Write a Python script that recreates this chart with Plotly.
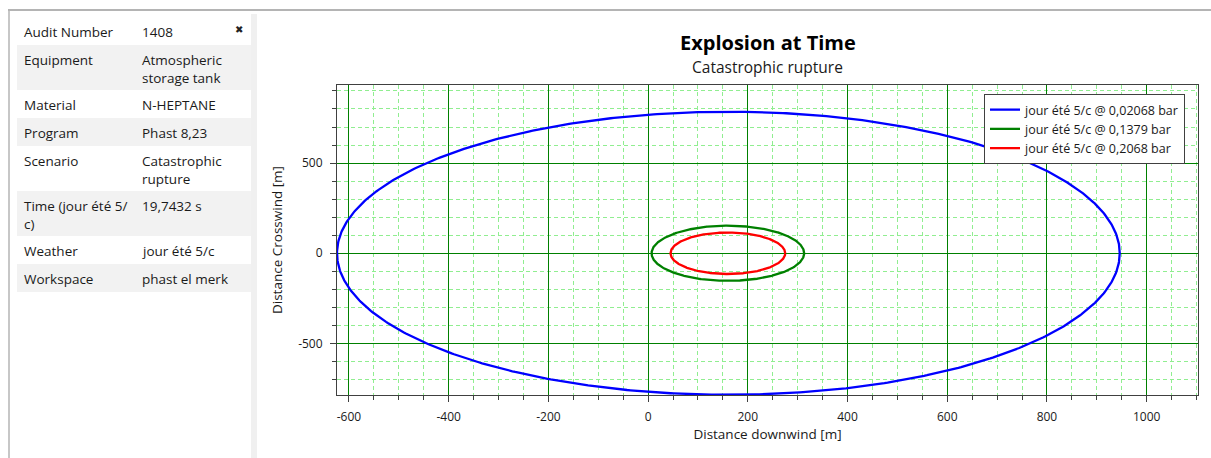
import numpy as np
import plotly.graph_objects as go

# ---------------- data ----------------
series_names = ["jour été 5/c @ 0,02068 bar", "jour été 5/c @ 0,1379 bar", "jour été 5/c @ 0,2068 bar"]
series_colors = ["#0000ff", "#008000", "#ff0000"]
center_x = [161, 160, 160]      # m downwind
center_y = [0, 0, 0]            # m crosswind
radius = [785, 153, 115]        # m

x_tickvals = [-600, -400, -200, 0, 200, 400, 600, 800, 1000]
x_ticktext = ["-600", "-400", "-200", "0", "200", "400", "600", "800", "1000"]
y_tickvals = [-500, 0, 500]
y_ticktext = ["-500", "0", "500"]

table_labels = ["Audit Number", "Equipment", "Material", "Program", "Scenario",
                "Time (jour été 5/\nc)", "Weather", "Workspace"]
table_values = ["1408", "Atmospheric\nstorage tank", "N-HEPTANE", "Phast 8,23",
                "Catastrophic\nrupture", "19,7432 s", "jour été 5/c", "phast el merk"]

title_text = "Explosion at Time"
subtitle_text = "Catastrophic rupture"
x_title = "Distance downwind [m]"
y_title = "Distance Crosswind [m]"

# ---------------- layout geometry ----------------
W, H = 1211, 458
ML, MR, MT, MB = 337, 13, 85, 63
PW, PH = W - ML - MR, H - MT - MB


def px_x(p):
    return (p - ML) / PW


def px_y(p):
    return (H - MB - p) / PH


FONT = "Open Sans"
TXT = "#1a1a1a"

fig = go.Figure()

theta = np.linspace(0, 2 * np.pi, 721)
for name, col, cx, cy, r in zip(series_names, series_colors, center_x, center_y, radius):
    fig.add_trace(go.Scatter(
        x=cx + r * np.cos(theta), y=cy + r * np.sin(theta),
        mode="lines", name=name, line=dict(color=col, width=2.3),
        hoverinfo="skip"))

shapes = []
annotations = []

# frame lines of the window
shapes.append(dict(type="line", xref="paper", yref="paper",
                   x0=px_x(8), x1=px_x(W), y0=px_y(10), y1=px_y(10),
                   line=dict(color="#b4b4b4", width=2), layer="above"))
shapes.append(dict(type="line", xref="paper", yref="paper",
                   x0=px_x(9), x1=px_x(9), y0=px_y(10), y1=px_y(H),
                   line=dict(color="#b4b4b4", width=1.5), layer="above"))
# light strip between panel and chart
shapes.append(dict(type="rect", xref="paper", yref="paper",
                   x0=px_x(251), x1=px_x(257), y0=px_y(14), y1=px_y(H),
                   fillcolor="#f0f0f0", line=dict(width=0), layer="below"))

# table rows
row_tops = [17]
for lab, val in zip(table_labels, table_values):
    nlines = max(lab.count("\n"), val.count("\n")) + 1
    h = 28 if nlines == 1 else 45
    row_tops.append(row_tops[-1] + h)

for i, (lab, val) in enumerate(zip(table_labels, table_values)):
    top, bot = row_tops[i], row_tops[i + 1]
    if i % 2 == 1:
        shapes.append(dict(type="rect", xref="paper", yref="paper",
                           x0=px_x(17), x1=px_x(251), y0=px_y(top), y1=px_y(bot),
                           fillcolor="#f2f2f2", line=dict(width=0), layer="below"))
    for xx, txt in ((22, lab), (140, val)):
        annotations.append(dict(xref="paper", yref="paper", x=px_x(xx), y=px_y(top + 4),
                                xanchor="left", yanchor="top", showarrow=False,
                                align="left", text=txt.replace("\n", "<br>"),
                                font=dict(family=FONT, size=13.5, color=TXT)))

annotations.append(dict(xref="paper", yref="paper", x=px_x(239), y=px_y(30),
                        xanchor="center", yanchor="middle", showarrow=False,
                        text="✖", font=dict(family="DejaVu Sans", size=10, color="#222")))

# titles
annotations.append(dict(xref="paper", yref="paper", x=0.5, y=px_y(42),
                        xanchor="center", yanchor="middle", showarrow=False,
                        text="<b>" + title_text + "</b>",
                        font=dict(family=FONT, size=20, color="#000")))
annotations.append(dict(xref="paper", yref="paper", x=0.5, y=px_y(67),
                        xanchor="center", yanchor="middle", showarrow=False,
                        text=subtitle_text,
                        font=dict(family=FONT, size=15.5, color=TXT)))

axis_common = dict(
    showline=True, mirror=True, linecolor="#404040", linewidth=1,
    ticks="outside", ticklen=6, tickcolor="#404040", tickwidth=1,
    showgrid=True, gridcolor="#008000", gridwidth=1, zeroline=False,
    tickfont=dict(family=FONT, size=12, color=TXT),
    tickmode="array", ticklabelstandoff=5,
)

fig.update_layout(
    width=W, height=H,
    margin=dict(l=ML, r=MR, t=MT, b=MB, pad=0),
    paper_bgcolor="white", plot_bgcolor="white",
    showlegend=True,
    legend=dict(x=px_x(984), y=px_y(94), xanchor="left", yanchor="top",
                bgcolor="white", bordercolor="#404040", borderwidth=1,
                font=dict(family=FONT, size=12.5, color=TXT),
                tracegroupgap=0, itemwidth=30),
    xaxis=dict(axis_common, range=[-624, 1103],
               tickvals=x_tickvals, ticktext=x_ticktext,
               minor=dict(tickmode="linear", tick0=0, dtick=50, ticks="outside", ticklen=4,
                          tickcolor="#404040", showgrid=True, gridcolor="#90ee90",
                          griddash="4px,3px", gridwidth=1),
               title=dict(text=x_title, standoff=4,
                          font=dict(family=FONT, size=13.5, color=TXT))),
    yaxis=dict(axis_common, range=[-786, 933],
               tickvals=y_tickvals, ticktext=y_ticktext,
               minor=dict(tickmode="linear", tick0=0, dtick=100, ticks="outside", ticklen=4,
                          tickcolor="#404040", showgrid=True, gridcolor="#90ee90",
                          griddash="4px,3px", gridwidth=1),
               title=dict(text=y_title, standoff=12,
                          font=dict(family=FONT, size=13.5, color=TXT))),
    shapes=shapes,
    annotations=annotations,
)

fig.write_html("out.html")
